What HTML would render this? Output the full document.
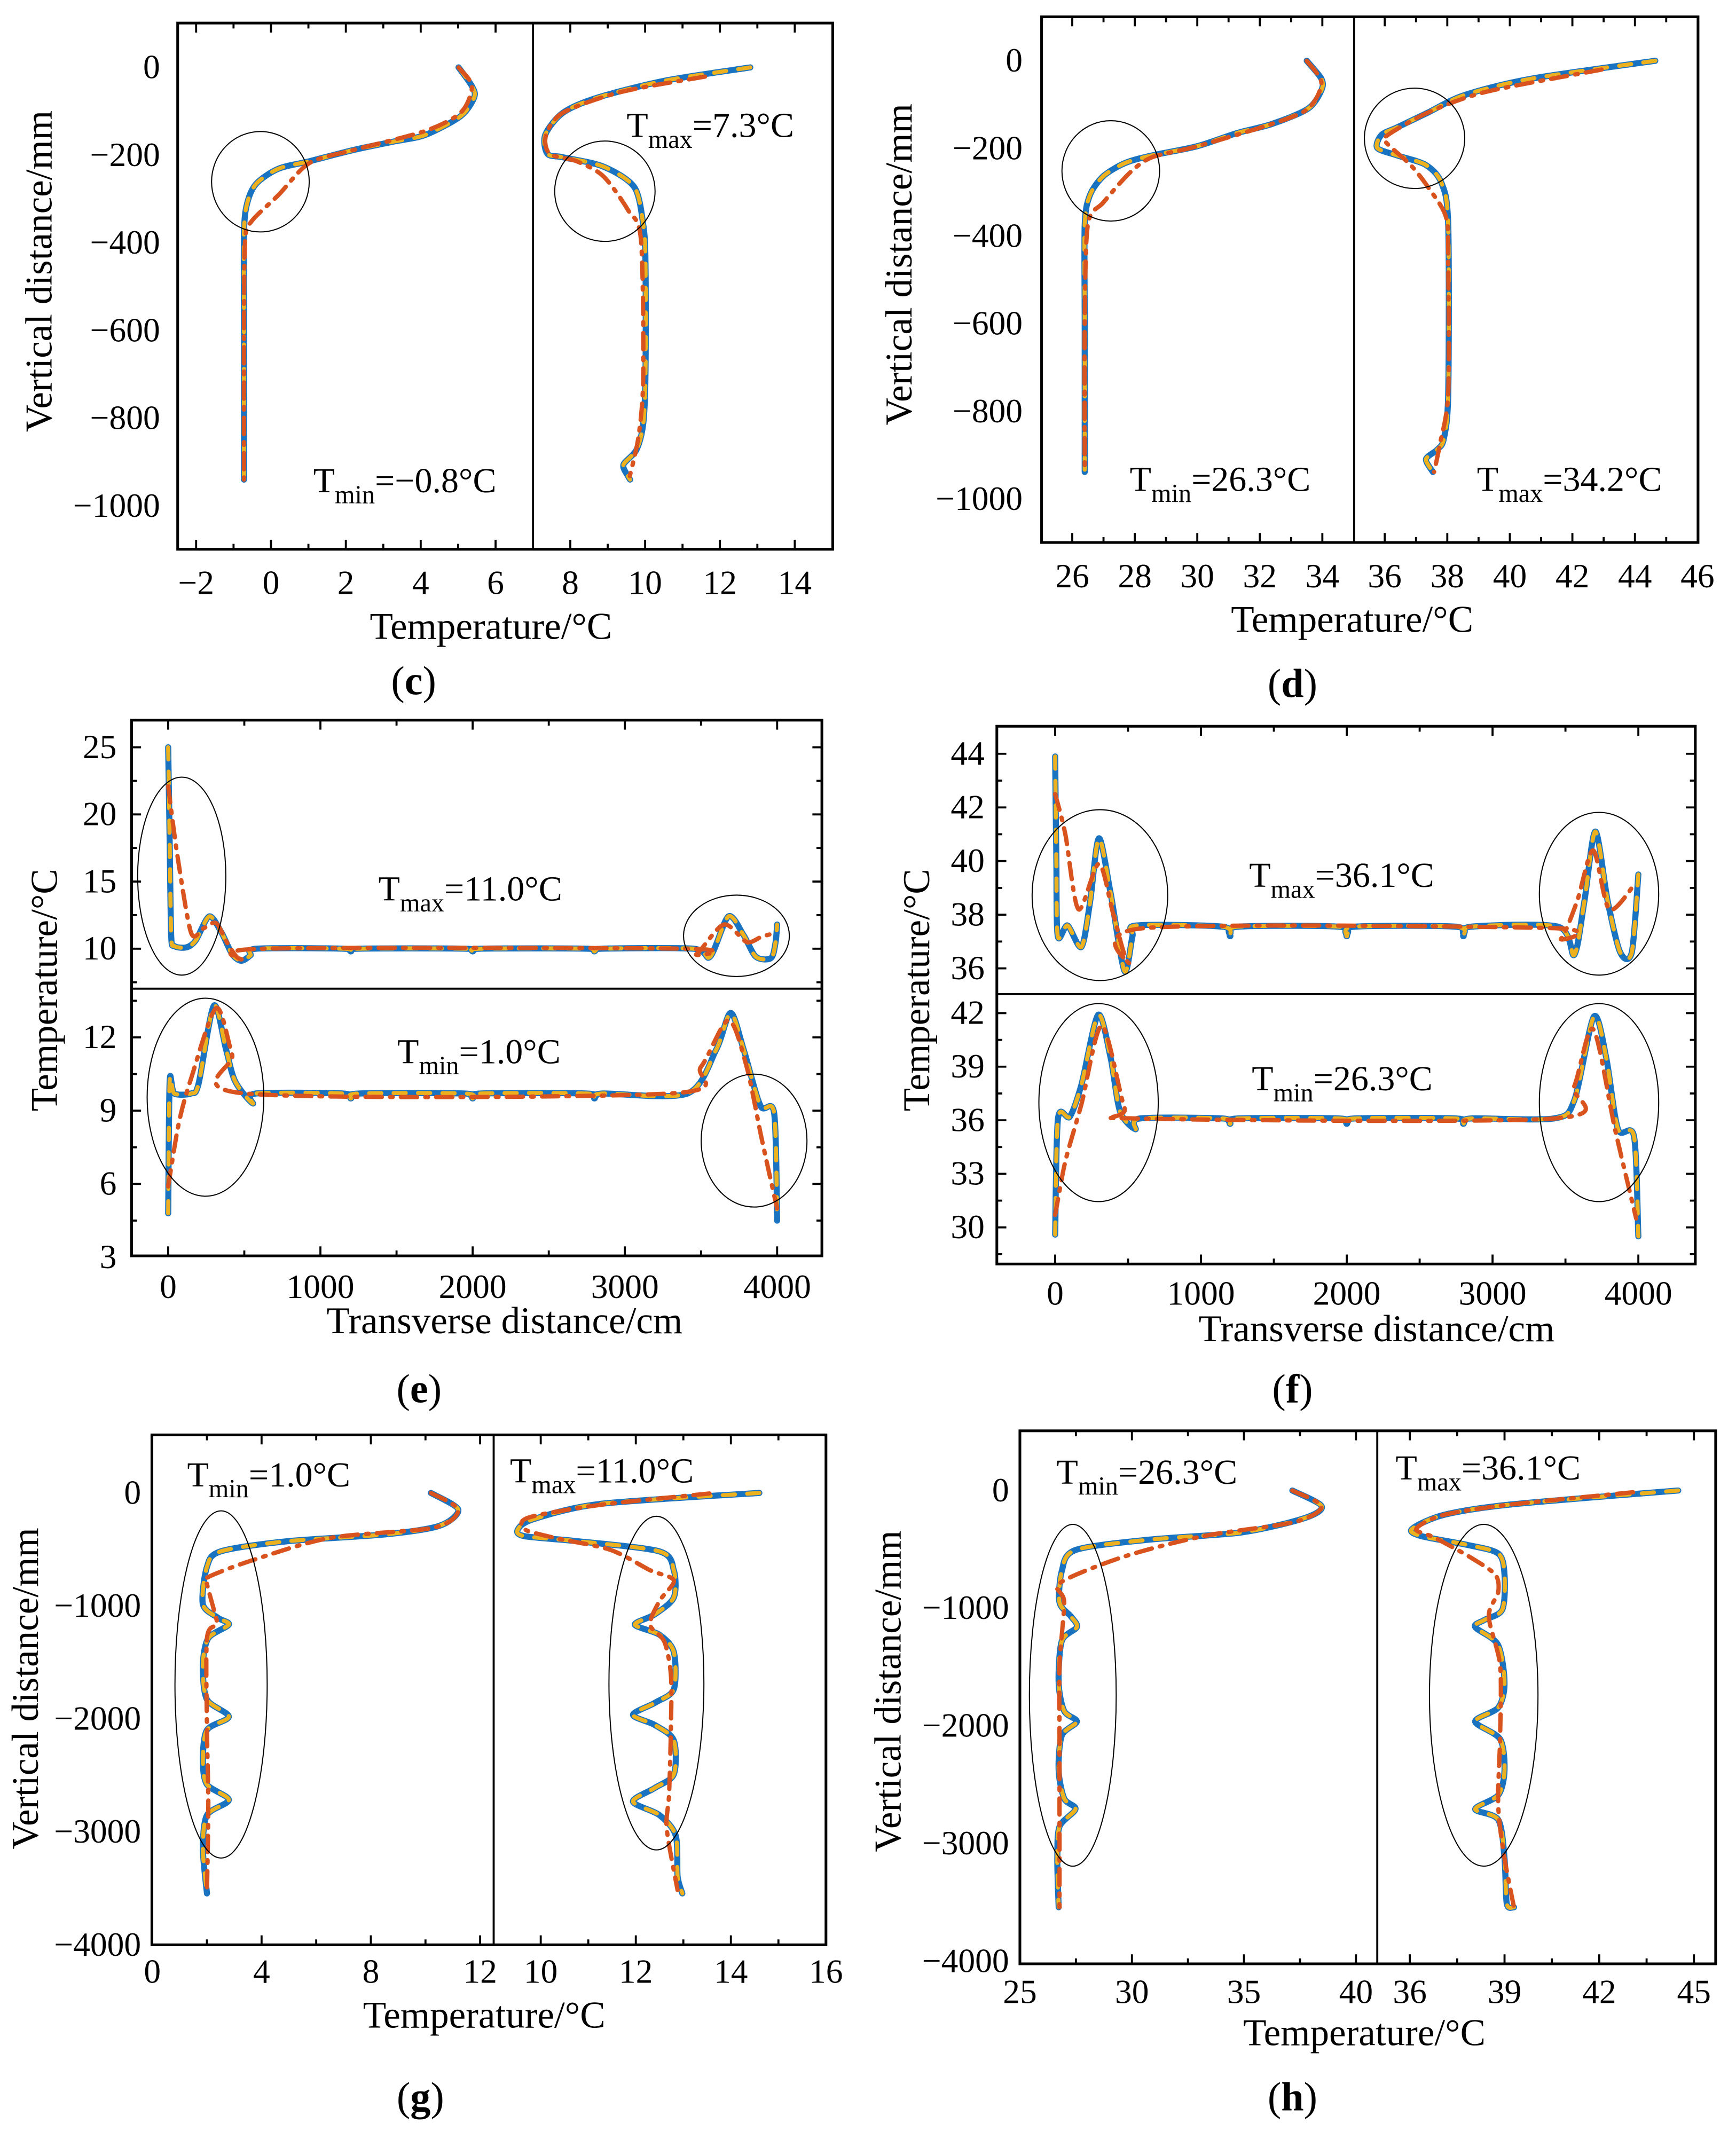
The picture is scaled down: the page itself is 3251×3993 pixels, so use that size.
<!DOCTYPE html>
<html><head><meta charset="utf-8"><style>
html,body{margin:0;padding:0;background:#fff}
svg{display:block}
text{font-family:"Liberation Serif","Times New Roman",serif;fill:#000}
</style></head><body>
<svg id="fig" width="3251" height="3993" viewBox="0 0 1280 1572" preserveAspectRatio="none" xmlns="http://www.w3.org/2000/svg"></svg>
<script>
// ---- data (T in °C, depth in mm / transverse distance in cm) ----
const cLeftBlue=[[5.01,0],[5.37,-43],[5.43,-68],[5.07,-111],[4.12,-154],[3.29,-169],[2.22,-188],[1.03,-214],[0.2,-231],[-0.39,-265],[-0.63,-308],[-0.72,-376],[-0.72,-600],[-0.72,-940]];
const cLeftOrange=[[5.01,0],[5.37,-43],[5.07,-103],[4.12,-145],[2.22,-188],[1.03,-218],[0.2,-291],[-0.51,-350],[-0.69,-393],[-0.72,-600],[-0.72,-940]];
const cRightBlue=[[12.81,0],[10.55,-30],[8.76,-68],[7.81,-103],[7.33,-154],[7.39,-197],[7.81,-205],[8.88,-226],[9.71,-273],[9.95,-359],[10.01,-444],[10.01,-701],[9.95,-812],[9.77,-872],[9.42,-906],[9.54,-932],[9.6,-940]];
const cRightOrange=[[11.6,-21],[9.36,-56],[7.81,-103],[7.35,-154],[7.45,-197],[8.17,-214],[8.88,-248],[9.54,-325],[9.89,-393],[9.95,-701],[9.83,-838],[9.59,-932]];
const dLeftBlue=[[33.5,0],[33.97,-41],[33.97,-67],[33.55,-109],[32.4,-144],[31.27,-165],[30.0,-195],[28.56,-216],[27.7,-233],[27.0,-263],[26.57,-306],[26.4,-374],[26.4,-600],[26.4,-938]];
const dLeftOrange=[[33.5,0],[33.97,-50],[33.55,-109],[32.4,-144],[30.0,-195],[28.56,-220],[27.85,-255],[27.0,-323],[26.5,-374],[26.4,-600],[26.4,-938]];
const dRightBlue=[[44.65,0],[40.67,-41],[38.53,-79],[37.39,-118],[36.4,-152],[35.9,-169],[35.76,-199],[36.4,-216],[37.32,-238],[37.82,-280],[38.03,-374],[38.03,-759],[37.89,-862],[37.68,-887],[37.32,-909],[37.54,-938]];
const dRightOrange=[[42.94,-20],[39.24,-71],[37.39,-118],[36.11,-169],[36.04,-186],[36.83,-238],[37.39,-289],[37.96,-357],[38.03,-460],[38.03,-759],[37.75,-879],[37.58,-938]];
const eTopBlue=[[0,25],[10,18],[20,11],[40,10.2],[120,10.1],[180,10.6],[270,12.4],[350,11.2],[420,9.6],[480,9.1],[540,9.5],[580,10],[1150,10],[1200,9.8],[1250,10],[1950,10],[2000,9.8],[2050,10],[2750,10],[2800,9.8],[2850,10],[3450,10],[3560,9.4],[3680,12.4],[3780,11],[3860,9.4],[3960,9.3],[3990,10.5],[4000,11.8]];
const eTopOrange=[[0,22.1],[60,17],[150,11.2],[230,11.5],[315,11.9],[400,10.2],[480,9.2],[630,10],[3400,10],[3470,9.6],[3650,11.8],[3800,10.5],[3900,10.9],[4000,11.2]];
const eBotBlue=[[0,4.8],[10,10.2],[40,9.7],[150,9.7],[200,10.1],[300,13.3],[380,11.5],[440,10.2],[555,9.3],[575,9.7],[1150,9.7],[1200,9.5],[1250,9.7],[1950,9.7],[2000,9.5],[2050,9.7],[2750,9.7],[2800,9.5],[2850,9.7],[3410,9.7],[3600,11.5],[3695,13.0],[3780,11.5],[3890,9.2],[3980,8.9],[4000,4.5]];
const eBotOrange=[[0,5.9],[70,8.5],[150,10.3],[315,13.2],[420,11.3],[510,9.7],[3290,9.7],[3500,10.8],[3680,12.7],[3800,10.8],[3900,7.8],[4000,5.0]];
const fTopBlue=[[0,43.9],[8,40],[18,37.2],[85,37.6],[180,36.8],[240,38.5],[300,40.85],[380,38.8],[475,35.9],[530,37.2],[560,37.6],[1150,37.55],[1200,37.2],[1250,37.55],[1950,37.55],[2000,37.2],[2050,37.55],[2750,37.55],[2800,37.2],[2850,37.55],[3450,37.55],[3560,36.5],[3630,38.5],[3705,41.1],[3790,38.5],[3875,36.6],[3955,36.6],[4000,39.5]];
const fTopOrange=[[0,42.5],[70,41],[160,38.2],[300,39.9],[400,38],[505,36.2],[615,37.5],[3400,37.5],[3470,37.1],[3580,38.5],[3690,40.4],[3800,38.2],[3970,39.1]];
const fBotBlue=[[0,29.6],[20,36.1],[100,36.2],[180,38],[295,41.9],[380,39.5],[445,36.5],[550,35.5],[580,36.1],[1150,36.1],[1200,35.8],[1250,36.1],[1950,36.1],[2000,35.8],[2050,36.1],[2750,36.1],[2800,35.8],[2850,36.1],[3420,36.1],[3560,37.1],[3695,41.8],[3780,39.5],[3860,35.5],[3970,35.1],[4000,29.5]];
const fBotOrange=[[0,30.7],[70,33.7],[180,36.9],[320,41.3],[475,36.7],[560,36.1],[3420,36.1],[3560,37.9],[3690,41.1],[3840,35.5],[3985,30.5]];
const gLeftBlue=[[10.2,0],[11.2,-148],[10.5,-292],[8.5,-367],[4.9,-428],[2.5,-518],[2.0,-654],[1.85,-985],[2.4,-1105],[2.8,-1166],[2.05,-1286],[1.85,-1527],[2.0,-1828],[2.8,-1979],[2.0,-2099],[1.85,-2370],[2.0,-2581],[2.8,-2717],[2.0,-2852],[1.85,-3154],[2.0,-3545]];
const gLeftOrange=[[10.2,0],[11.2,-148],[10.3,-307],[6.5,-398],[3.7,-593],[2.05,-744],[2.0,-804],[2.3,-1075],[2.35,-1166],[2.0,-1286],[2.0,-2069],[2.05,-2762],[2.0,-3545]];
const gRightBlue=[[14.6,0],[11.27,-96],[9.85,-232],[9.52,-322],[9.66,-383],[10.8,-428],[12.5,-518],[12.8,-684],[12.8,-925],[12.4,-1075],[11.98,-1166],[12.5,-1256],[12.8,-1407],[12.8,-1738],[12.4,-1858],[11.94,-1964],[12.4,-2054],[12.8,-2190],[12.8,-2491],[12.4,-2611],[11.94,-2732],[12.5,-2852],[12.84,-3033],[12.88,-3395],[12.98,-3545]];
const gRightOrange=[[13.55,-5],[11.27,-105],[9.75,-217],[9.66,-322],[10.3,-398],[11.46,-503],[12.3,-684],[12.8,-774],[12.5,-955],[12.3,-1166],[12.6,-1316],[12.74,-1617],[12.74,-2069],[12.7,-2672],[12.65,-2973],[12.88,-3515]];
const hLeftBlue=[[37.16,0],[38.47,-134],[37.66,-238],[34.84,-357],[30.8,-417],[27.48,-506],[26.87,-685],[26.77,-952],[27.28,-1071],[27.54,-1161],[26.87,-1280],[26.73,-1637],[26.98,-1875],[27.54,-1964],[26.87,-2083],[26.73,-2381],[26.98,-2619],[27.48,-2708],[26.77,-2857],[26.67,-3125],[26.73,-3542]];
const hLeftOrange=[[37.16,0],[38.47,-134],[37.26,-268],[33.2,-387],[29.6,-565],[26.77,-789],[26.98,-952],[26.77,-1488],[26.77,-2083],[26.77,-2679],[26.77,-3542]];
const hRightBlue=[[44.5,0],[39.2,-119],[37.07,-208],[36.07,-327],[36.36,-387],[37.8,-461],[38.8,-536],[39.0,-714],[38.93,-1012],[38.36,-1101],[38.07,-1161],[38.79,-1310],[39.0,-1637],[38.8,-1845],[38.07,-1964],[38.86,-2113],[39.0,-2381],[38.8,-2589],[38.07,-2708],[38.8,-2798],[39.0,-3125],[39.07,-3512],[39.3,-3542]];
const hRightOrange=[[43.07,-15],[39.2,-119],[37.07,-208],[36.2,-327],[36.8,-402],[37.9,-565],[38.7,-714],[38.8,-863],[38.5,-1071],[38.86,-1488],[38.86,-2083],[38.8,-2679],[39.0,-3125],[39.3,-3542]];
const cTicksX=[-2,0,2,4,6], cTicksX2=[8,10,12,14], cTicksY=[0,-200,-400,-600,-800,-1000];
const dTicksX=[26,28,30,32,34], dTicksX2=[36,38,40,42,44,46], dTicksY=[0,-200,-400,-600,-800,-1000];
const eTicksX=[0,1000,2000,3000,4000], eTicksTop=[10,15,20,25], eTicksBot=[3,6,9,12];
const fTicksX=[0,1000,2000,3000,4000], fTicksTop=[36,38,40,42,44], fTicksBot=[30,33,36,39,42];
const gTicksX=[0,4,8,12], gTicksX2=[10,12,14,16], gTicksY=[0,-1000,-2000,-3000,-4000];
const hTicksX=[25,30,35,40], hTicksX2=[36,39,42,45], hTicksY=[0,-1000,-2000,-3000,-4000];

const NS="http://www.w3.org/2000/svg", svg=document.getElementById('fig');
function el(tag,attrs,parent){const e=document.createElementNS(NS,tag);for(const k in attrs)e.setAttribute(k,attrs[k]);(parent||svg).appendChild(e);return e;}
function lin(d0,d1,r0,r1){return v=>r0+(v-d0)*(r1-r0)/(d1-d0);}
function txt(s,x,y,size,anchor,name){const t=el('text',{x:x,y:y,'font-size':size,'text-anchor':anchor||'middle'});t.textContent=s;

return t;}
function panelLabel(letter,x,y,name){const t=el('text',{x:x,y:y,'font-size':30,'text-anchor':'middle'});


const a=el('tspan',{},t);a.textContent='(';const b=el('tspan',{'font-weight':'bold'},t);b.textContent=letter;const c=el('tspan',{},t);c.textContent=')';}
function ann(main,sub,rest,x,y,name){const t=el('text',{x:x,y:y,'font-size':26});


const a=el('tspan',{},t);a.textContent=main;const b=el('tspan',{dy:8,'font-size':19},t);b.textContent=sub;const c=el('tspan',{dy:-8},t);c.textContent=rest;}
function smooth(pts){let d='M'+pts[0][0].toFixed(1)+' '+pts[0][1].toFixed(1);
for(let i=0;i<pts.length-1;i++){const p0=pts[Math.max(0,i-1)],p1=pts[i],p2=pts[i+1],p3=pts[Math.min(pts.length-1,i+2)];
const t=0.14;const c1=[p1[0]+(p2[0]-p0[0])*t,p1[1]+(p2[1]-p0[1])*t],c2=[p2[0]-(p3[0]-p1[0])*t,p2[1]-(p3[1]-p1[1])*t];
d+=' C'+c1[0].toFixed(1)+' '+c1[1].toFixed(1)+' '+c2[0].toFixed(1)+' '+c2[1].toFixed(1)+' '+p2[0].toFixed(1)+' '+p2[1].toFixed(1);}
return d;}
function curve(data,sx,sy,color,dash,w,name){const pts=data.map(p=>[sx(p[0]),sy(p[1])]);
const p=el('path',{d:smooth(pts),fill:'none',stroke:color,'stroke-width':w,'stroke-linejoin':'round','stroke-linecap':'round'});if(dash)p.setAttribute('stroke-dasharray',dash);

}
function ellipse(cx,cy,rx,ry){const e=el('ellipse',{cx:cx,cy:cy,rx:rx,ry:ry,fill:'none',stroke:'#000','stroke-width':0.8});

}
function box(x0,y0,x1,y1,name){const r=el('rect',{x:x0,y:y0,width:x1-x0,height:y1-y0,fill:'none',stroke:'#000','stroke-width':2});

}
function tick(x1,y1,x2,y2){el('line',{x1:x1,y1:y1,x2:x2,y2:y2,stroke:'#000','stroke-width':1.5});}
function xTicks(ticks,sx,yb,yt,labY,lo,hi){const step=ticks[1]-ticks[0];
for(let v=ticks[0]-step/2;v<=ticks[ticks.length-1]+step;v+=step/2){const x=sx(v);if(x<=lo+2||x>=hi-2)continue;const major=ticks.indexOf(v)>=0;const L=major?7:4;tick(x,yb,x,yb-L);tick(x,yt,x,yt+L);}
ticks.forEach(v=>{txt(String(v).replace('-','\u2212'),sx(v),labY,25,'middle','x-tick-label');});}
function yTicks(ticks,sy,xl,xr,labX,top,bot){const step=ticks[1]-ticks[0];
for(let v=ticks[0]-step;v<=ticks[ticks.length-1]+step;v+=step/2){const y=sy(v);if(y<=top+2||y>=bot-2)continue;const major=ticks.indexOf(v)>=0;const L=major?7:4;tick(xl,y,xl+L,y);tick(xr,y,xr-L,y);}
ticks.forEach(v=>{txt(String(v).replace('-','\u2212'),labX,sy(v)+8,25,'end','y-tick-label');});}
const BLUE='#1a73c0',OR='#d9531e',YE='#edb120';
function series(b,o,sx,sy,tag){curve(b,sx,sy,BLUE,null,4.5,tag+'-blue-line');curve(b,sx,sy,YE,'9 9',3,tag+'-yellow-dashed');curve(o,sx,sy,OR,'12 6 2 6',3.2,tag+'-orange-dashdot');}
function ylabel(s,x,y){const t=txt(s,0,0,28,'middle','y-axis-title');t.setAttribute('transform','translate('+x+','+y+') rotate(-90)');}

// ---- (c) ----
(function(){const y=lin(0,-1000,49.7,373);const xl=lin(0,6,199.8,365.4),xr=lin(8,14,420.5,586);
box(131,17,614,405,'panel-c-frame');el('line',{x1:393,y1:17,x2:393,y2:405,stroke:'#000','stroke-width':1.5});
xTicks(cTicksX,xl,405,17,438,131,393);xTicks(cTicksX2,xr,405,17,438,393,614);yTicks(cTicksY,y,131,614,118,17,405);
series(cLeftBlue,cLeftOrange,xl,y,'c-left');series(cRightBlue,cRightOrange,xr,y,'c-right');
ellipse(192,134,36,37);ellipse(446,141,37,37);
ann('T','min','=\u22120.8\u00b0C',231,363,'tmin-annotation-c');ann('T','max','=7.3\u00b0C',462,101,'tmax-annotation-c');
ylabel('Vertical distance/mm',38,200);txt('Temperature/\u00b0C',362,471,28,'middle','x-axis-title');panelLabel('c',305,512,'panel-label-c');})();
// ---- (d) ----
(function(){const y=lin(0,-1000,44.8,368);const xl=lin(26,34,790.6,975),xr=lin(36,46,1021,1251.6);
box(768,12.4,1252,400,'panel-d-frame');el('line',{x1:998.4,y1:12.4,x2:998.4,y2:400,stroke:'#000','stroke-width':1.5});
xTicks(dTicksX,xl,400,12.4,433,768,998.4);xTicks(dTicksX2,xr,400,12.4,433,998.4,1252);yTicks(dTicksY,y,768,1252,754,12.4,400);
series(dLeftBlue,dLeftOrange,xl,y,'d-left');series(dRightBlue,dRightOrange,xr,y,'d-right');
ellipse(819,126,36,37);ellipse(1043,102,37,37);
ann('T','min','=26.3\u00b0C',833,362,'tmin-annotation-d');ann('T','max','=34.2\u00b0C',1089,362,'tmax-annotation-d');
ylabel('Vertical distance/mm',672,195);txt('Temperature/\u00b0C',997,466,28,'middle','x-axis-title');panelLabel('d',953,514,'panel-label-d');})();
// ---- (e) ----
(function(){const x=lin(0,4000,124,573);const yt=lin(10,25,699.5,551),yb=lin(3,12,927,764.9);
box(97,531,606,926,'panel-e-frame');el('line',{x1:97,y1:729,x2:606,y2:729,stroke:'#000','stroke-width':1.5});
xTicks(eTicksX,x,926,531,957,97,606);yTicks(eTicksTop,yt,97,606,86,531,729);yTicks(eTicksBot,yb,97,606,86,729,926);
series(eTopBlue,eTopOrange,x,yt,'e-top');series(eBotBlue,eBotOrange,x,yb,'e-bottom');
ellipse(134,646,32.5,73);ellipse(543,690,39,30);ellipse(151.5,809,43,73);ellipse(556,841,39,49);
ann('T','max','=11.0\u00b0C',279,664,'tmax-annotation-e');ann('T','min','=1.0\u00b0C',293,784,'tmin-annotation-e');
ylabel('Temperature/\u00b0C',42,730);txt('Transverse distance/cm',372,983,28,'middle','x-axis-title');panelLabel('e',309,1034,'panel-label-e');})();
// ---- (f) ----
(function(){const x=lin(0,4000,778,1208);const yt=lin(36,44,714,555.8),yb=lin(30,42,905,747);
box(735,535.5,1250,932,'panel-f-frame');el('line',{x1:735,y1:733,x2:1250,y2:733,stroke:'#000','stroke-width':1.5});
xTicks(fTicksX,x,932,535.5,962,735,1250);yTicks(fTicksTop,yt,735,1250,726,535.5,733);yTicks(fTicksBot,yb,735,1250,726,733,932);
series(fTopBlue,fTopOrange,x,yt,'f-top');series(fBotBlue,fBotOrange,x,yb,'f-bottom');
ellipse(811,660,50,63);ellipse(1179,659,44,60);ellipse(810,813,44,73);ellipse(1179,813,44,73);
ann('T','max','=36.1\u00b0C',921,654,'tmax-annotation-f');ann('T','min','=26.3\u00b0C',923,804,'tmin-annotation-f');
ylabel('Temperature/\u00b0C',685,730);txt('Transverse distance/cm',1015,989,28,'middle','x-axis-title');panelLabel('f',953,1034,'panel-label-f');})();
// ---- (g) ----
(function(){const y=lin(0,-4000,1100.8,1434);const xl=lin(0,12,112.3,354),xr=lin(10,16,398.7,609);
box(112,1058,609,1434,'panel-g-frame');el('line',{x1:364,y1:1058,x2:364,y2:1434,stroke:'#000','stroke-width':1.5});
xTicks(gTicksX,xl,1434,1058,1462,112,364);xTicks(gTicksX2,xr,1434,1058,1462,364,609);yTicks(gTicksY,y,112,609,104,1058,1434);
series(gLeftBlue,gLeftOrange,xl,y,'g-left');series(gRightBlue,gRightOrange,xr,y,'g-right');
ellipse(163,1242,34,128);ellipse(484,1241,35,123);
ann('T','min','=1.0\u00b0C',138,1096,'tmin-annotation-g');ann('T','max','=11.0\u00b0C',376,1093,'tmax-annotation-g');
ylabel('Vertical distance/mm',28,1245);txt('Temperature/\u00b0C',357,1495,28,'middle','x-axis-title');panelLabel('g',310,1556,'panel-label-g');})();
// ---- (h) ----
(function(){const y=lin(0,-4000,1099,1446);const xl=lin(25,40,752,999.8),xr=lin(36,45,1039.5,1249);
box(752,1055,1265,1448,'panel-h-frame');el('line',{x1:1015.5,y1:1055,x2:1015.5,y2:1448,stroke:'#000','stroke-width':1.5});
xTicks(hTicksX,xl,1448,1055,1477,752,1015.5);xTicks(hTicksX2,xr,1448,1055,1477,1015.5,1265);yTicks(hTicksY,y,752,1265,744,1055,1448);
series(hLeftBlue,hLeftOrange,xl,y,'h-left');series(hRightBlue,hRightOrange,xr,y,'h-right');
ellipse(791,1250,32,126);ellipse(1094,1250,40,126);
ann('T','min','=26.3\u00b0C',779,1094,'tmin-annotation-h');ann('T','max','=36.1\u00b0C',1029,1091,'tmax-annotation-h');
ylabel('Vertical distance/mm',664,1247);txt('Temperature/\u00b0C',1006,1508,28,'middle','x-axis-title');panelLabel('h',953,1556,'panel-label-h');})();
</script>
</body></html>
